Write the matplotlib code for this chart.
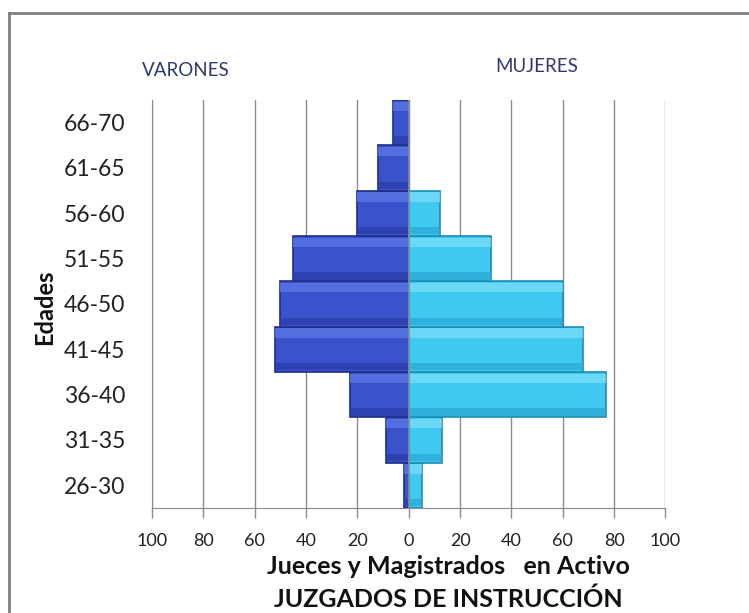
import matplotlib
matplotlib.use('Agg')
import matplotlib.pyplot as plt
import numpy as np
from matplotlib.lines import Line2D

edades = ['26-30', '31-35', '36-40', '41-45', '46-50', '51-55', '56-60', '61-65', '66-70']
varones = [2, 9, 23, 52, 50, 45, 20, 12, 6]
mujeres = [5, 13, 77, 68, 60, 32, 12, 0, 0]
ticks = [-100, -80, -60, -40, -20, 0, 20, 40, 60, 80, 100]

plt.rcParams['font.family'] = ['Lato', 'DejaVu Sans']

fig = plt.figure(figsize=(7.49, 6.13), dpi=100)
ax = fig.add_axes([0.2029, 0.1713, 0.6856, 0.6656])

y = np.arange(len(edades))
izq = -np.array(varones)
der = np.array(mujeres)

# barras con un poco de relieve
ax.barh(y, izq, height=1.0, color='#3a52cc', edgecolor='#1f2e86', linewidth=1.2, zorder=3)
ax.barh(y + 0.36, izq, height=0.2, color='#5f7ae6', linewidth=0, alpha=0.7, zorder=4)
ax.barh(y - 0.38, izq, height=0.16, color='#2a3ca8', linewidth=0, alpha=0.7, zorder=4)
ax.barh(y, der, height=1.0, color='#3fc8f0', edgecolor='#1e8cb2', linewidth=1.2, zorder=3)
ax.barh(y + 0.36, der, height=0.2, color='#80e0fa', linewidth=0, alpha=0.7, zorder=4)
ax.barh(y - 0.38, der, height=0.16, color='#2aa8d4', linewidth=0, alpha=0.7, zorder=4)
ax.axvline(0, color='#8a8a9a', linewidth=1.2, zorder=5)

ax.set_xlim(-100, 100)
ax.set_ylim(-0.5, 8.5)
ax.set_xticks(ticks)
ax.set_xticklabels([str(abs(t)) for t in ticks], fontsize=13, color='#222222')
ax.set_yticks(y)
ax.set_yticklabels(edades, fontsize=16.5, color='#222222')
ax.tick_params(axis='y', length=0, pad=19)
ax.tick_params(axis='x', length=7, width=1, color='#8c8c8c', pad=11, direction='out')
ax.grid(axis='x', color='#8c8c8c', linewidth=1, zorder=0)
ax.set_axisbelow(True)
for s in ['top', 'right']:
    ax.spines[s].set_visible(False)
ax.spines['bottom'].set_color('#8c8c8c')
ax.spines['left'].set_color('#8c8c8c')

fig.text(448 / 749, 1 - 567 / 613, 'Jueces y Magistrados   en Activo', ha='center', va='center',
         fontsize=18, fontweight='bold', color='#111111')
fig.text(448 / 749, 1 - 599 / 613, 'JUZGADOS DE INSTRUCCIÓN', ha='center', va='center',
         fontsize=18, fontweight='bold', color='#111111')
fig.text(45 / 749, 1 - 307 / 613, 'Edades', ha='center', va='center', rotation=90,
         fontsize=17, fontweight='bold', color='#111111')

fig.text(186 / 749, 1 - 70 / 613, 'VARONES', ha='center', va='center', fontsize=13.5, color='#2e3a6b')
fig.text(537 / 749, 1 - 66 / 613, 'MUJERES', ha='center', va='center', fontsize=13.5, color='#2e3a6b')

# marco exterior
fig.add_artist(Line2D([9 / 749, 1], [1 - 13 / 613, 1 - 13 / 613], color='#7f7f7f', linewidth=2))
fig.add_artist(Line2D([9 / 749, 9 / 749], [0, 1 - 13 / 613], color='#7f7f7f', linewidth=2))

fig.savefig('out.png', dpi=100)
